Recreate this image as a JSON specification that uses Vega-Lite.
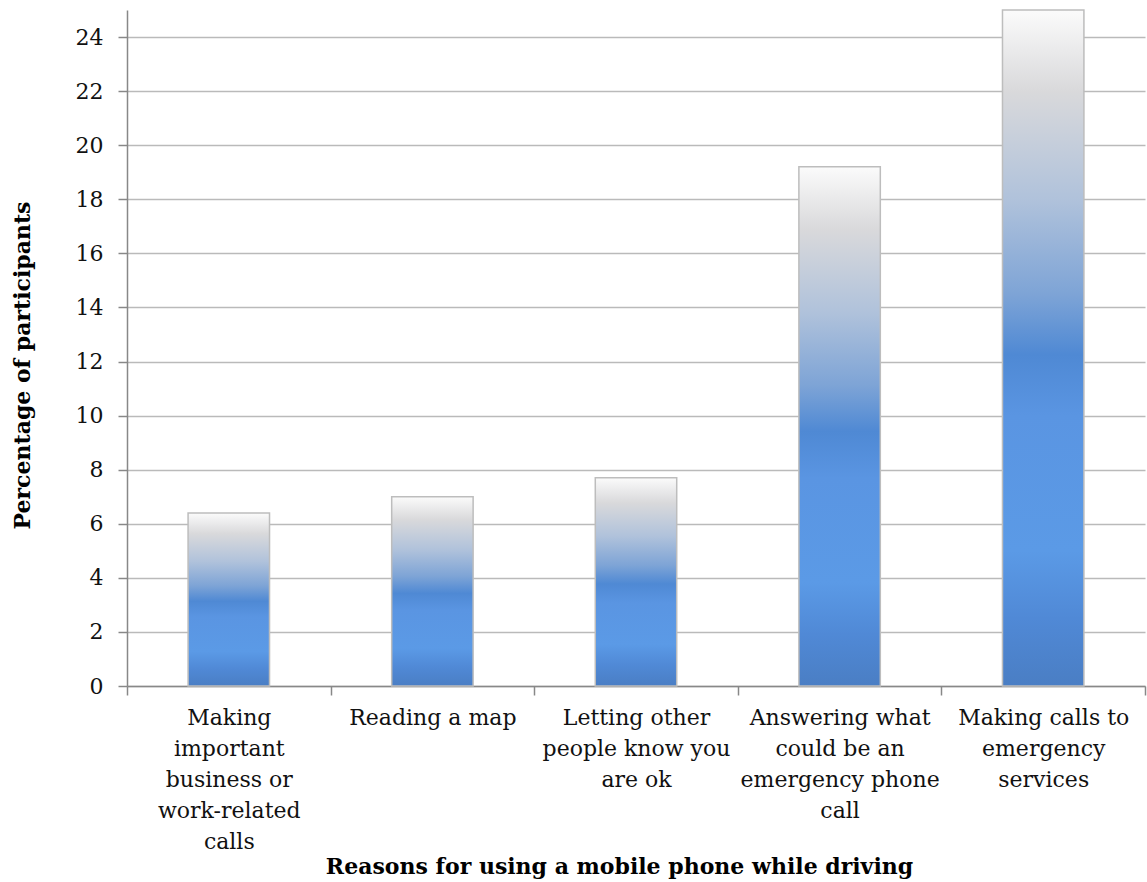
{
  "$schema": "https://vega.github.io/schema/vega-lite/v6.json",
  "width": 1018,
  "height": 676,
  "autosize": {"type": "none"},
  "padding": {"left": 127, "top": 10, "right": 2, "bottom": 196},
  "background": "white",
  "config": {
    "view": {"stroke": null},
    "font": "DejaVu Serif"
  },
  "data": {
    "values": [
      {"reason": "Making important business or work-related calls", "pct": 6.4},
      {"reason": "Reading a map", "pct": 7.0},
      {"reason": "Letting other people know you are ok", "pct": 7.7},
      {"reason": "Answering what could be an emergency phone call", "pct": 19.2},
      {"reason": "Making calls to emergency services", "pct": 25.0}
    ]
  },
  "mark": {
    "type": "bar",
    "width": {"band": 0.4},
    "stroke": "#bdbdbd",
    "strokeWidth": 1.5,
    "color": {
      "gradient": "linear",
      "x1": 0, "y1": 0, "x2": 0, "y2": 1,
      "stops": [
        {"offset": 0, "color": "#fbfbfb"},
        {"offset": 0.12, "color": "#d9d9db"},
        {"offset": 0.28, "color": "#b0c2db"},
        {"offset": 0.42, "color": "#7ea4d6"},
        {"offset": 0.51, "color": "#4f89d4"},
        {"offset": 0.6, "color": "#5a95e2"},
        {"offset": 0.8, "color": "#5b9ae6"},
        {"offset": 0.9, "color": "#5089d6"},
        {"offset": 1, "color": "#4a7ec4"}
      ]
    }
  },
  "encoding": {
    "x": {
      "field": "reason",
      "type": "nominal",
      "sort": null,
      "scale": {"paddingInner": 0, "paddingOuter": 0},
      "axis": {
        "title": "Reasons for using a mobile phone while driving",
        "titleFont": "DejaVu Serif",
        "titleFontSize": 22,
        "titleFontWeight": "bold",
        "titleColor": "#000000",
        "titleX": 492,
        "titleAlign": "center",
        "titleY": 180,
        "titleBaseline": "middle",
        "labelAngle": 0,
        "labelFont": "DejaVu Serif",
        "labelFontSize": 22,
        "labelColor": "#111111",
        "labelLineHeight": 31,
        "labelPadding": 12,
        "labelBaseline": "top",
        "labelLimit": 400,
        "labelExpr": "datum.value == 'Making important business or work-related calls' ? ['Making', 'important', 'business or', 'work-related', 'calls'] : datum.value == 'Letting other people know you are ok' ? ['Letting other', 'people know you', 'are ok'] : datum.value == 'Answering what could be an emergency phone call' ? ['Answering what', 'could be an', 'emergency phone', 'call'] : datum.value == 'Making calls to emergency services' ? ['Making calls to', 'emergency', 'services'] : datum.value",
        "tickBand": "extent",
        "tickSize": 9,
        "tickColor": "#888888",
        "tickWidth": 1.5,
        "domainColor": "#888888",
        "domainWidth": 1.5,
        "grid": false
      }
    },
    "y": {
      "field": "pct",
      "type": "quantitative",
      "scale": {"domain": [0, 25], "nice": false},
      "axis": {
        "values": [0, 2, 4, 6, 8, 10, 12, 14, 16, 18, 20, 22, 24],
        "title": "Percentage of participants",
        "titleFont": "DejaVu Serif",
        "titleFontSize": 22,
        "titleFontWeight": "bold",
        "titleColor": "#000000",
        "titleX": -105,
        "titleY": 355,
        "titleAngle": 270,
        "titleAlign": "center",
        "titleBaseline": "middle",
        "labelFont": "DejaVu Serif",
        "labelFontSize": 22,
        "labelColor": "#111111",
        "labelPadding": 15,
        "tickSize": 9,
        "tickColor": "#888888",
        "tickWidth": 1.5,
        "domainColor": "#888888",
        "domainWidth": 1.5,
        "grid": true,
        "gridColor": "#bababa",
        "gridWidth": 1.5
      }
    }
  }
}
